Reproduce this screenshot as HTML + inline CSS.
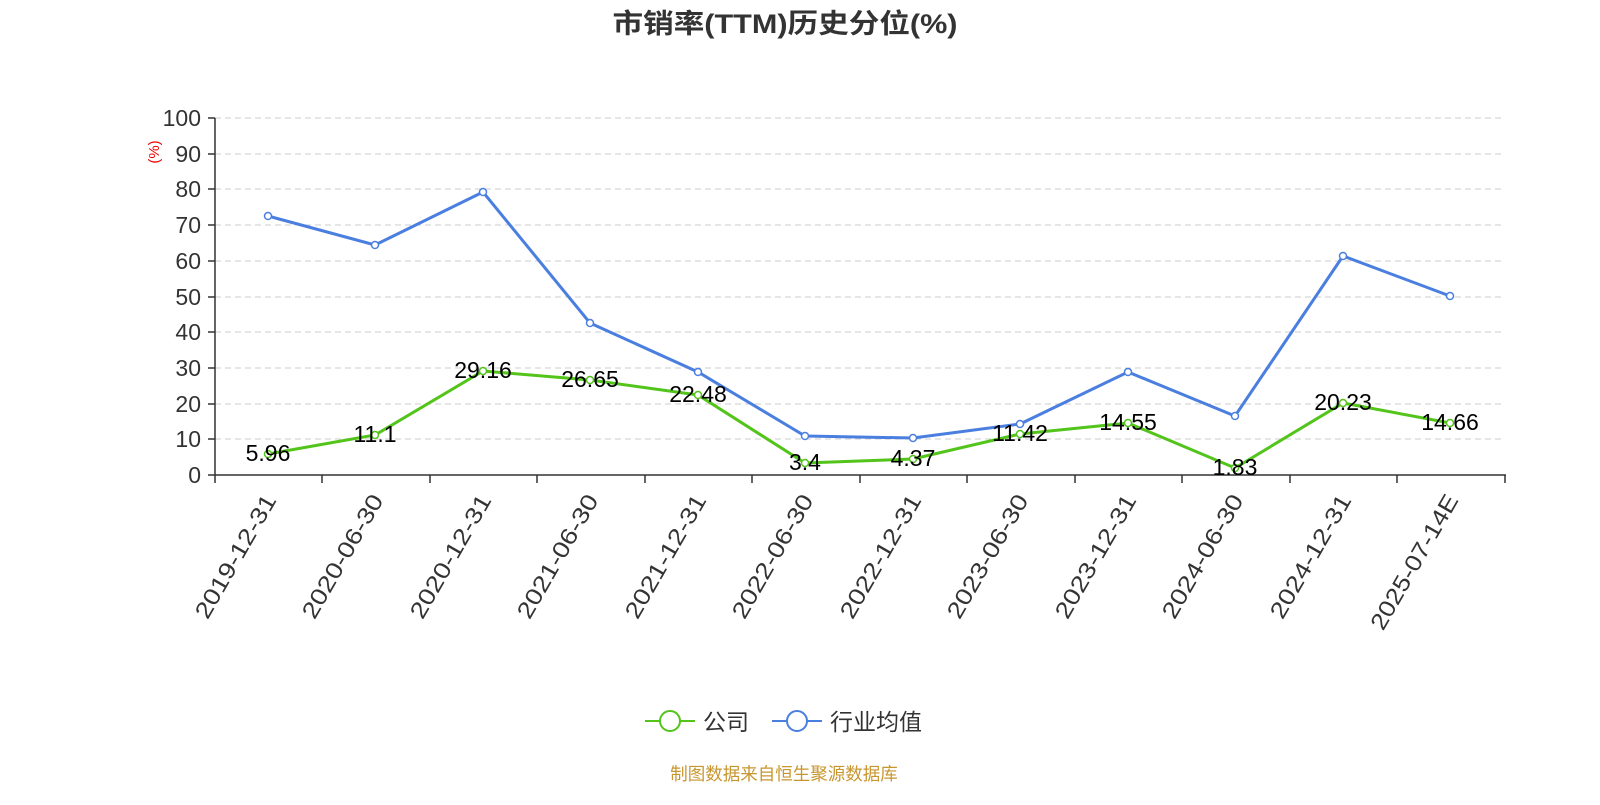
<!DOCTYPE html>
<html><head><meta charset="utf-8"><style>
body{margin:0;background:#fff;}
text{font-family:"Liberation Sans","Noto Sans CJK SC",sans-serif;}
</style></head><body>
<svg width="1600" height="800" xmlns="http://www.w3.org/2000/svg">
<text x="785" y="33" text-anchor="middle" font-size="27" font-weight="bold" fill="#333" textLength="345" lengthAdjust="spacingAndGlyphs">市销率(TTM)历史分位(%)</text>
<g stroke="#ccc" stroke-dasharray="6,4" stroke-width="1">
<line x1="215" x2="1505" y1="118" y2="118"/><line x1="215" x2="1505" y1="154" y2="154"/>
<line x1="215" x2="1505" y1="189" y2="189"/><line x1="215" x2="1505" y1="225" y2="225"/>
<line x1="215" x2="1505" y1="261" y2="261"/><line x1="215" x2="1505" y1="297" y2="297"/>
<line x1="215" x2="1505" y1="332" y2="332"/><line x1="215" x2="1505" y1="368" y2="368"/>
<line x1="215" x2="1505" y1="404" y2="404"/><line x1="215" x2="1505" y1="439" y2="439"/>
</g>
<g stroke="#333" stroke-width="1.5">
<line x1="215" y1="118" x2="215" y2="475"/><line x1="215" y1="475" x2="1506" y2="475"/>
<line x1="208" y1="118" x2="215" y2="118"/><line x1="208" y1="154" x2="215" y2="154"/><line x1="208" y1="189" x2="215" y2="189"/><line x1="208" y1="225" x2="215" y2="225"/><line x1="208" y1="261" x2="215" y2="261"/><line x1="208" y1="297" x2="215" y2="297"/><line x1="208" y1="332" x2="215" y2="332"/><line x1="208" y1="368" x2="215" y2="368"/><line x1="208" y1="404" x2="215" y2="404"/><line x1="208" y1="439" x2="215" y2="439"/><line x1="208" y1="475" x2="215" y2="475"/>
<line x1="215" y1="475" x2="215" y2="483"/><line x1="322" y1="475" x2="322" y2="483"/><line x1="430" y1="475" x2="430" y2="483"/><line x1="537" y1="475" x2="537" y2="483"/><line x1="645" y1="475" x2="645" y2="483"/><line x1="752" y1="475" x2="752" y2="483"/><line x1="860" y1="475" x2="860" y2="483"/><line x1="967" y1="475" x2="967" y2="483"/><line x1="1075" y1="475" x2="1075" y2="483"/><line x1="1182" y1="475" x2="1182" y2="483"/><line x1="1290" y1="475" x2="1290" y2="483"/><line x1="1397" y1="475" x2="1397" y2="483"/><line x1="1505" y1="475" x2="1505" y2="483"/>
</g>
<g font-size="23" fill="#333" text-anchor="end">
<text x="201" y="126">100</text><text x="201" y="162">90</text><text x="201" y="197">80</text><text x="201" y="233">70</text><text x="201" y="269">60</text><text x="201" y="305">50</text><text x="201" y="340">40</text><text x="201" y="376">30</text><text x="201" y="412">20</text><text x="201" y="447">10</text><text x="201" y="483">0</text>
</g>
<text transform="translate(159,152) rotate(-90)" text-anchor="middle" font-size="15" fill="#e00">(%)</text>
<g font-size="23" fill="#333" text-anchor="end">
<text transform="translate(277,500) rotate(-60)" textLength="139" lengthAdjust="spacingAndGlyphs">2019-12-31</text>
<text transform="translate(384,500) rotate(-60)" textLength="139" lengthAdjust="spacingAndGlyphs">2020-06-30</text>
<text transform="translate(492,500) rotate(-60)" textLength="139" lengthAdjust="spacingAndGlyphs">2020-12-31</text>
<text transform="translate(599,500) rotate(-60)" textLength="139" lengthAdjust="spacingAndGlyphs">2021-06-30</text>
<text transform="translate(707,500) rotate(-60)" textLength="139" lengthAdjust="spacingAndGlyphs">2021-12-31</text>
<text transform="translate(814,500) rotate(-60)" textLength="139" lengthAdjust="spacingAndGlyphs">2022-06-30</text>
<text transform="translate(922,500) rotate(-60)" textLength="139" lengthAdjust="spacingAndGlyphs">2022-12-31</text>
<text transform="translate(1029,500) rotate(-60)" textLength="139" lengthAdjust="spacingAndGlyphs">2023-06-30</text>
<text transform="translate(1137,500) rotate(-60)" textLength="139" lengthAdjust="spacingAndGlyphs">2023-12-31</text>
<text transform="translate(1244,500) rotate(-60)" textLength="139" lengthAdjust="spacingAndGlyphs">2024-06-30</text>
<text transform="translate(1352,500) rotate(-60)" textLength="139" lengthAdjust="spacingAndGlyphs">2024-12-31</text>
<text transform="translate(1459,500) rotate(-60)" textLength="152" lengthAdjust="spacingAndGlyphs">2025-07-14E</text>
</g>
<polyline fill="none" stroke="#4a7fe0" stroke-width="3" points="268,216 375,245 483,192 590,323 698,372 805,436 913,438 1020,424 1128,372 1235,416 1343,256 1450,296"/>
<g fill="#fff" stroke="#4a7fe0" stroke-width="1.5">
<circle cx="268" cy="216" r="3.5"/><circle cx="375" cy="245" r="3.5"/><circle cx="483" cy="192" r="3.5"/><circle cx="590" cy="323" r="3.5"/><circle cx="698" cy="372" r="3.5"/><circle cx="805" cy="436" r="3.5"/><circle cx="913" cy="438" r="3.5"/><circle cx="1020" cy="424" r="3.5"/><circle cx="1128" cy="372" r="3.5"/><circle cx="1235" cy="416" r="3.5"/><circle cx="1343" cy="256" r="3.5"/><circle cx="1450" cy="296" r="3.5"/>
</g>
<polyline fill="none" stroke="#52c41a" stroke-width="3" points="268,454 375,435 483,371 590,380 698,395 805,463 913,459 1020,434 1128,423 1235,468 1343,403 1450,423"/>
<g fill="#fff" stroke="#52c41a" stroke-width="1.5">
<circle cx="268" cy="454" r="3.5"/><circle cx="375" cy="435" r="3.5"/><circle cx="483" cy="371" r="3.5"/><circle cx="590" cy="380" r="3.5"/><circle cx="698" cy="395" r="3.5"/><circle cx="805" cy="463" r="3.5"/><circle cx="913" cy="459" r="3.5"/><circle cx="1020" cy="434" r="3.5"/><circle cx="1128" cy="423" r="3.5"/><circle cx="1235" cy="468" r="3.5"/><circle cx="1343" cy="403" r="3.5"/><circle cx="1450" cy="423" r="3.5"/>
</g>
<g font-size="23" fill="#000" text-anchor="middle">
<text x="268" y="461">5.96</text><text x="375" y="442">11.1</text><text x="483" y="378">29.16</text><text x="590" y="387">26.65</text><text x="698" y="402">22.48</text><text x="805" y="470">3.4</text><text x="913" y="466">4.37</text><text x="1020" y="441">11.42</text><text x="1128" y="430">14.55</text><text x="1235" y="475">1.83</text><text x="1343" y="410">20.23</text><text x="1450" y="430">14.66</text>
</g>
<line x1="645" y1="721" x2="695" y2="721" stroke="#52c41a" stroke-width="2"/>
<circle cx="670" cy="721" r="10" fill="#fff" stroke="#52c41a" stroke-width="2"/>
<text x="703" y="730" font-size="23" fill="#333">公司</text>
<line x1="772" y1="721" x2="822" y2="721" stroke="#4a7fe0" stroke-width="2"/>
<circle cx="797" cy="721" r="10" fill="#fff" stroke="#4a7fe0" stroke-width="2"/>
<text x="830" y="730" font-size="23" fill="#333">行业均值</text>
<text x="784" y="780" text-anchor="middle" font-size="17.5" fill="#c8962e">制图数据来自恒生聚源数据库</text>
</svg>
</body></html>
